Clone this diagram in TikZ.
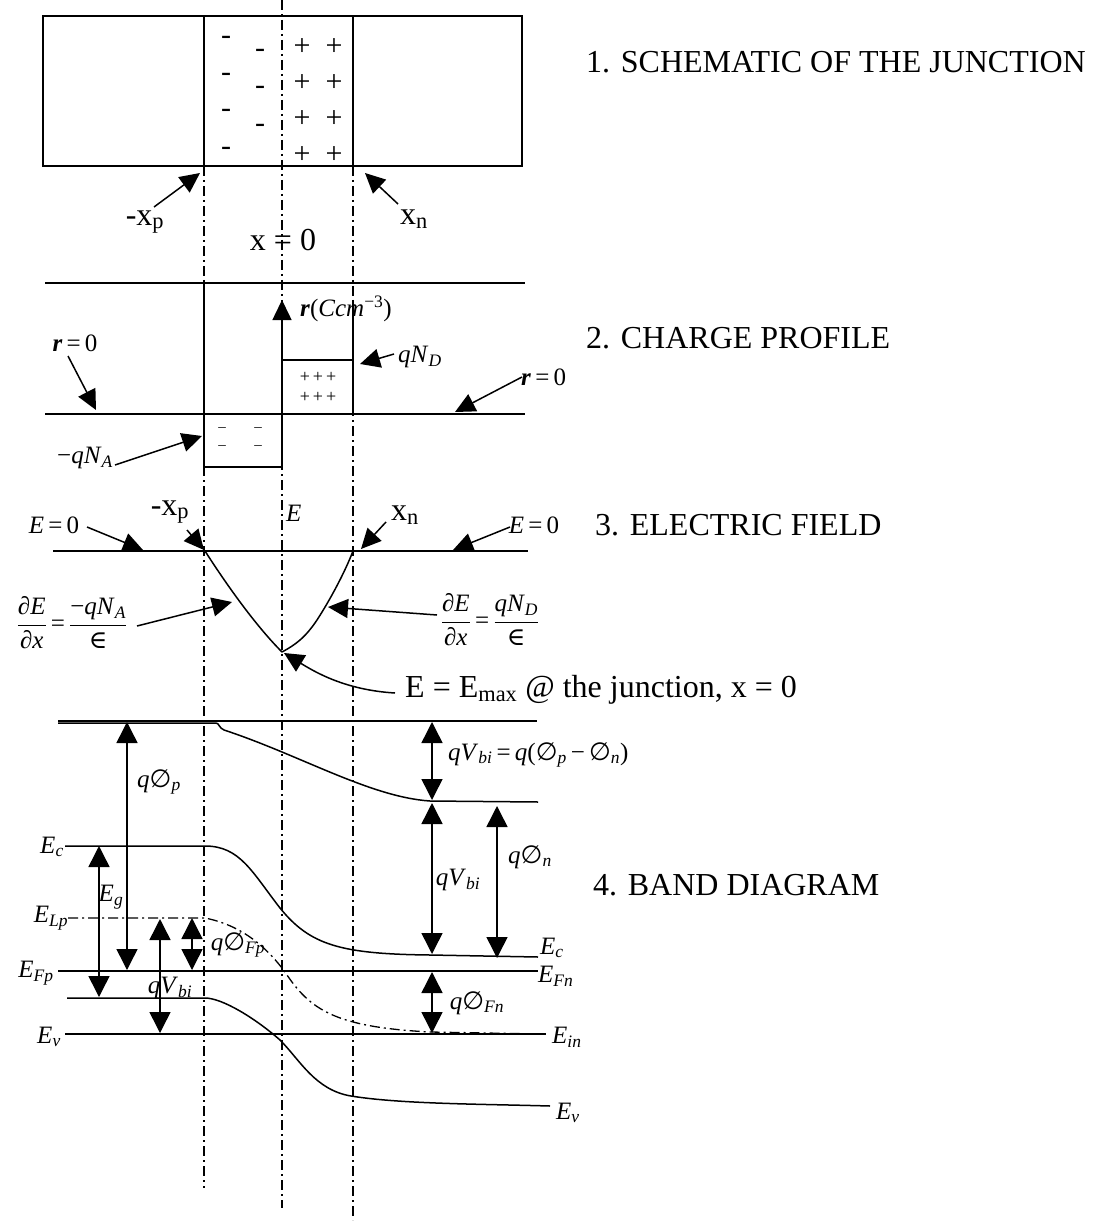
\documentclass[tikz,border=0pt]{standalone}
\usepackage{amsmath}
\usepackage{fontspec}
\setmainfont{Liberation Serif}
\newfontfamily\symf{DejaVu Serif}
\newfontfamily\symfs{DejaVu Sans}
\usetikzlibrary{arrows.meta}
\newcommand{\mi}[1]{\textit{#1}}
\newcommand{\lsb}[1]{\textsubscript{#1}}
\newcommand{\emp}{{\symfs ∅}}
\newcommand{\elem}{{\symf ∈}}
\newcommand{\rr}{\textbf{\textit{r}}}
\tikzset{
  ln/.style={line width=1.5pt},
  dd/.style={line width=1.3pt, dash pattern=on 10pt off 4pt on 2pt off 4pt},
  arr/.style={line width=1.5pt, -{Triangle[length=20pt,width=19pt]}},
  darr/.style={line width=1.5pt, {Triangle[length=21pt,width=21pt]}-{Triangle[length=21pt,width=21pt]}},
  ttl/.style={font=\fontsize{32}{38}\selectfont, anchor=west, inner sep=0pt},
  lab/.style={font=\fontsize{32}{38}\selectfont, inner sep=0pt},
  ml/.style={font=\fontsize{25}{30}\selectfont, inner sep=0pt},
  sgn/.style={font=\fontsize{30}{34}\selectfont, inner sep=0pt},
  psg/.style={font=\fontsize{18}{20}\selectfont, inner sep=0pt},
  msg/.style={font=\fontsize{15}{16}\selectfont, inner sep=0pt},
}
\begin{document}
\begin{tikzpicture}[x=1pt,y=-1pt]
\fill[white] (0,0) rectangle (1095,1222);
\useasboundingbox (0,0) rectangle (1095,1222);

% ---------- vertical dash-dot lines ----------
\draw[dd] (282,0) -- (282,1208);
\draw[dd] (204,166) -- (204,1188);
\draw[dd] (353,166) -- (353,1220);

% ---------- 1. schematic ----------
\draw[ln] (43,16) rectangle (522,166);
\draw[ln] (204,16) -- (204,166);
\draw[ln] (353,16) -- (353,166);
\foreach \y [count=\i] in {40,77,113,151} \node[sgn] (ma\i) at (226,\y) {-};
\foreach \y [count=\i] in {53,90,128} \node[sgn] (mb\i) at (260,\y) {-};
\foreach \y [count=\i] in {47,83,119,155} {\node[sgn] (pa\i) at (302,\y) {+}; \node[sgn] (pb\i) at (334,\y) {+};}
\node[lab] (xp1) at (145,222) {-x\lsb{p}};
\coordinate (xp1a) at (154,207); \coordinate (xp1b) at (200,173);
\draw[arr] (xp1a) -- (xp1b);
\node[lab] (x0) at (283,240) {x = 0};
\node[lab] (xn1) at (414,219) {x\lsb{n}};
\coordinate (xn1a) at (398,204); \coordinate (xn1b) at (365,173);
\draw[arr] (xn1a) -- (xn1b);
\node[ttl] (t1) at (586,62) {1. SCHEMATIC OF THE JUNCTION};

% ---------- 2. charge profile ----------
\draw[ln] (45,283) -- (525,283);
\draw[ln] (45,414) -- (525,414);
\draw[ln] (204,283) -- (204,467) -- (282,467);
\draw[ln] (282,360) -- (353,360);
\draw[ln] (353,300) -- (353,414);
\coordinate (rhoa) at (282,467); \coordinate (rhob) at (282,300);
\draw[arr] (rhoa) -- (rhob);
\node[msg] (mm1) at (222,430) {–}; \node[msg] (mm2) at (258,430) {–};
\node[msg] (mm3) at (222,448) {–}; \node[msg] (mm4) at (258,448) {–};
\node[psg] (pp1) at (318,377) {+\kern3pt+\kern3pt+};
\node[psg] (pp2) at (318,397) {+\kern3pt+\kern3pt+};
\node[ml, anchor=west] (rho) at (300,309) {\rr(\mi{Ccm}\textsuperscript{−3})};
\node[ml] (r0l) at (75,343) {\rr\,=\,0};
\coordinate (r0la) at (68,356); \coordinate (r0lb) at (96,410);
\draw[arr] (r0la) -- (r0lb);
\node[ml, anchor=west] (r0r) at (521,377) {\rr\,=\,0};
\coordinate (r0ra) at (522,377); \coordinate (r0rb) at (455,412);
\draw[arr] (r0ra) -- (r0rb);
\node[ml, anchor=west] (qnd) at (398,357) {\mi{qN}\lsb{\mi{D}}};
\coordinate (qnda) at (394,354); \coordinate (qndb) at (360,364);
\draw[arr] (qnda) -- (qndb);
\node[ml] (qna) at (85,458) {−\mi{qN}\lsb{\mi{A}}};
\coordinate (qnaa) at (115,465); \coordinate (qnab) at (202,436);
\draw[arr] (qnaa) -- (qnab);
\node[ttl] (t2) at (586,338) {2. CHARGE PROFILE};

% ---------- 3. electric field ----------
\draw[ln] (53,551) -- (528,551);
\draw[ln] (205,551) .. controls (230,590) and (258,628) .. (282,652);
\draw[ln] (282,652) .. controls (295,645) and (305,638) .. (317,620) .. controls (330,600) and (345,572) .. (353,551);
\node[ml] (e0l) at (54,525) {\mi{E}\,=\,0};
\coordinate (e0la) at (87,527); \coordinate (e0lb) at (143,550);
\draw[arr] (e0la) -- (e0lb);
\node[lab] (xp3) at (170,512) {-x\lsb{p}};
\coordinate (xp3a) at (187,530); \coordinate (xp3b) at (204,550);
\draw[arr] (xp3a) -- (xp3b);
\node[ml, anchor=west] (elab) at (286,513) {\mi{E}};
\node[lab] (xn3) at (405,515) {x\lsb{n}};
\coordinate (xn3a) at (386,522); \coordinate (xn3b) at (361,549);
\draw[arr] (xn3a) -- (xn3b);
\node[ml] (e0r) at (534,525) {\mi{E}\,=\,0};
\coordinate (e0ra) at (510,527); \coordinate (e0rb) at (453,550);
\draw[arr] (e0ra) -- (e0rb);
\node[ttl] (t3) at (595,525) {3. ELECTRIC FIELD};
\node[ml] (fl) at (72,623) {$\dfrac{\mbox{∂\mi{E}}}{\mbox{∂\mi{x}}}\mbox{\,=\,}\dfrac{\mbox{−\mi{qN}\lsb{\mi{A}}}}{\mbox{\elem}}$};
\coordinate (fla) at (137,626); \coordinate (flb) at (232,602);
\draw[arr] (fla) -- (flb);
\node[ml] (fr) at (490,620) {$\dfrac{\mbox{∂\mi{E}}}{\mbox{∂\mi{x}}}\mbox{\,=\,}\dfrac{\mbox{\mi{qN}\lsb{\mi{D}}}}{\mbox{\elem}}$};
\coordinate (fra) at (437,615); \coordinate (frb) at (328,607);
\draw[arr] (fra) -- (frb);
\node[lab, anchor=west] (emax) at (405,690) {E = E\lsb{max} @ the junction, x = 0};
\coordinate (emaxa) at (395,693); \coordinate (emaxb) at (284,653);
\draw[arr] (emaxa) .. controls (345,690) and (315,672) .. (emaxb);

% ---------- 4. band diagram ----------
\draw[ln] (58,721) -- (537,721);
\draw[ln] (58,723) -- (216,723) .. controls (219,723) and (219,728) .. (224,730) .. controls (300,755) and (370,797) .. (430,801) -- (538,802);
\draw[ln] (65,846) -- (205,846) .. controls (240,846) and (252,872) .. (280,908) .. controls (310,945) and (340,954) .. (430,955) -- (538,957);
\draw[dd] (68,918) -- (205,918) .. controls (240,925) and (265,945) .. (285,972) .. controls (310,1010) and (335,1027) .. (430,1032) -- (540,1034);
\draw[ln] (58,971) -- (538,971);
\draw[ln] (67,998) -- (205,998) .. controls (222,998) and (255,1018) .. (280,1040) .. controls (300,1060) and (315,1090) .. (351,1096) .. controls (400,1104) and (480,1104) .. (550,1106);
\draw[ln] (65,1034) -- (546,1034);

\coordinate (a1) at (127,722); \coordinate (b1) at (127,970);
\draw[darr] (a1) -- (b1);
\coordinate (a2) at (99,846); \coordinate (b2) at (99,997);
\draw[darr] (a2) -- (b2);
\coordinate (a3) at (160,919); \coordinate (b3) at (160,1033);
\draw[darr] (a3) -- (b3);
\coordinate (a4) at (192,918); \coordinate (b4) at (192,970);
\draw[darr] (a4) -- (b4);
\coordinate (a5) at (432,722); \coordinate (b5) at (432,800);
\draw[darr] (a5) -- (b5);
\coordinate (a6) at (432,803); \coordinate (b6) at (432,954);
\draw[darr] (a6) -- (b6);
\coordinate (a7) at (497,806); \coordinate (b7) at (497,958);
\draw[darr] (a7) -- (b7);
\coordinate (a8) at (432,972); \coordinate (b8) at (432,1033);
\draw[darr] (a8) -- (b8);

\node[ml] (lqpp) at (159,782) {\mi{q}\emp\lsb{\mi{p}}};
\node[ml, anchor=west] (lqvb) at (448,755) {\mi{qV}\lsb{\mi{bi}}\,=\,\mi{q}(\emp\lsb{\mi{p}}\,−\,\emp\lsb{\mi{n}})};
\node[ml] (lecl) at (52,847) {\mi{E}\lsb{\mi{c}}};
\node[ml] (leg) at (111,897) {\mi{E}\lsb{\mi{g}}};
\node[ml] (lelp) at (51,918) {\mi{E}\lsb{\mi{Lp}}};
\node[ml] (lqfp) at (238,945) {\mi{q}\emp\lsb{\mi{Fp}}};
\node[ml] (lqvr) at (458,880) {\mi{qV}\lsb{\mi{bi}}};
\node[ml] (lqpn) at (530,857) {\mi{q}\emp\lsb{\mi{n}}};
\node[ttl] (t4) at (593,885) {4. BAND DIAGRAM};
\node[ml, anchor=west] (lecr) at (540,948) {\mi{E}\lsb{\mi{c}}};
\node[ml, anchor=west] (lefn) at (538,976) {\mi{E}\lsb{\mi{Fn}}};
\node[ml] (lefp) at (36,973) {\mi{E}\lsb{\mi{Fp}}};
\node[ml] (lqvl) at (170,988) {\mi{qV}\lsb{\mi{bi}}};
\node[ml] (lqfn) at (477,1003) {\mi{q}\emp\lsb{\mi{Fn}}};
\node[ml] (levl) at (49,1037) {\mi{E}\lsb{\mi{v}}};
\node[ml, anchor=west] (lein) at (552,1037) {\mi{E}\lsb{\mi{in}}};
\node[ml, anchor=west] (levr) at (556,1113) {\mi{E}\lsb{\mi{v}}};
\end{tikzpicture}
\end{document}
